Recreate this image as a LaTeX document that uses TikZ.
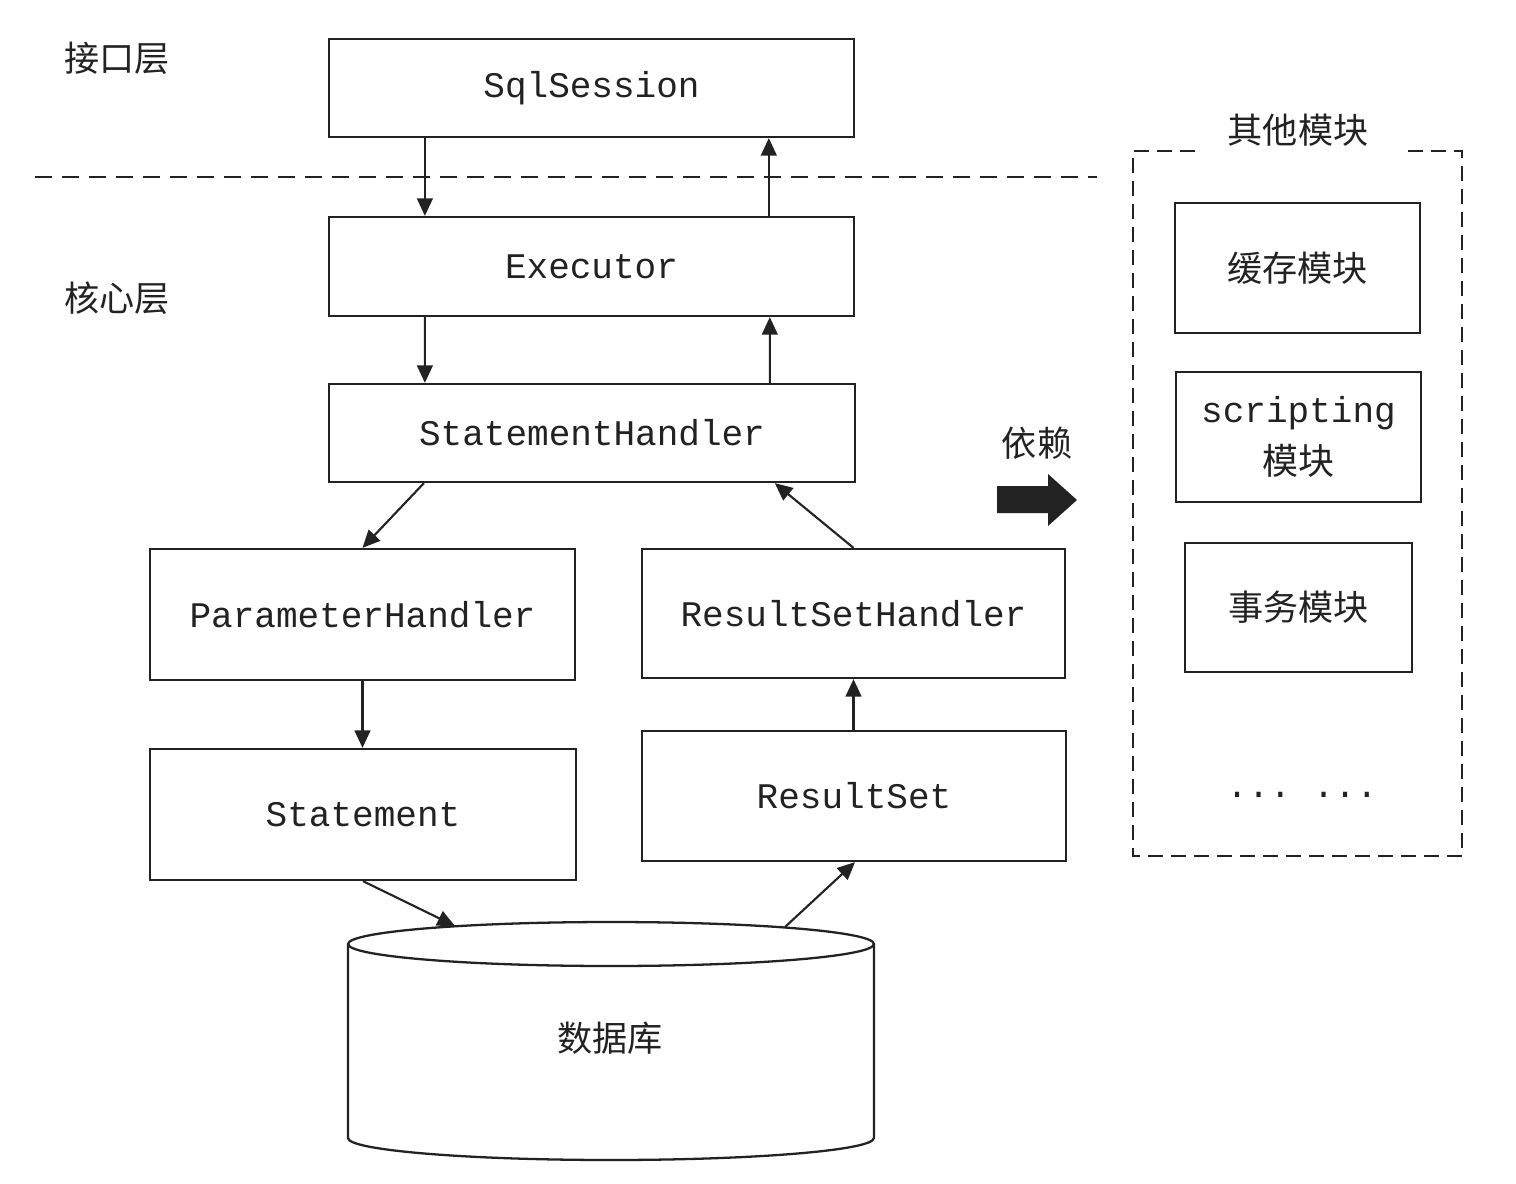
\documentclass[tikz,border=0pt]{standalone}
\usepackage{fontspec}
\setmonofont{Liberation Mono}
\newfontfamily\cjk{Noto Sans CJK SC}
\usetikzlibrary{arrows.meta}
\definecolor{ink}{HTML}{222222}
\tikzset{
  box/.style={draw=ink, line width=1.3pt, rectangle, inner sep=0pt, text=ink,
              font=\fontsize{20.5pt}{26pt}\selectfont\ttfamily},
  cjkbox/.style={box, font=\fontsize{20pt}{26pt}\selectfont\cjk},
  lbl/.style={text=ink, inner sep=0pt, font=\fontsize{20pt}{24pt}\selectfont\cjk},
  arr/.style={draw=ink, line width=1.2pt, -{Triangle[length=10pt,width=9pt]}},
  sep/.style={draw=ink, line width=1.3pt, dash pattern=on 0.34cm off 0.2cm},
  grp/.style={draw=ink, line width=1.3pt, dash pattern=on 0.3cm off 0.16cm},
  cyl/.style={draw=ink, line width=1.3pt}
}
\begin{document}
\begin{tikzpicture}[x=0.02cm,y=-0.02cm]
\useasboundingbox (0,0) rectangle (1516,1184);

% layer labels
\node[lbl] (jk) at (117,58) {接口层};
\node[lbl] (hx) at (117,298) {核心层};

% separator
\coordinate (sepL) at (35,177);
\coordinate (sepR) at (1097,177);
\draw[sep] (sepL) -- (sepR);

% main boxes
\node[box, minimum width=10.5cm, minimum height=1.96cm] (sql) at (591.5,88) {SqlSession};
\node[box, minimum width=10.5cm, minimum height=1.98cm] (exe) at (591.5,266.5) {Executor};
\node[box, minimum width=10.52cm, minimum height=1.96cm] (sh) at (592,433) {StatementHandler};
\node[box, minimum width=8.5cm, minimum height=2.62cm] (ph) at (362.5,614.5) {ParameterHandler};
\node[box, minimum width=8.46cm, minimum height=2.58cm] (rsh) at (853.5,613.5) {ResultSetHandler};
\node[box, minimum width=8.52cm, minimum height=2.62cm] (st) at (363,814.5) {Statement};
\node[box, minimum width=8.48cm, minimum height=2.6cm] (rs) at (854,796) {ResultSet};

% database cylinder
\draw[cyl] (348,944) -- (348,1138)
  arc[start angle=180, end angle=360, x radius=5.26cm, y radius=0.44cm]
  -- (874,944);
\draw[cyl] (611,944) ellipse [x radius=5.26cm, y radius=0.44cm];
\node[lbl] (db) at (610,1038) {数据库};
\coordinate (dbin) at (455,926);
\coordinate (dbout) at (785,927);

% arrows
\draw[arr] ([xshift=1.94cm]sql.south west) -- ([xshift=1.94cm]exe.north west);
\draw[arr] ([xshift=8.82cm]exe.north west) -- ([xshift=8.82cm]sql.south west);
\draw[arr] ([xshift=1.94cm]exe.south west) -- ([xshift=1.94cm]sh.north west);
\draw[arr] ([xshift=8.84cm]sh.north west) -- ([xshift=8.84cm]exe.south west);
\draw[arr] ([xshift=1.92cm]sh.south west) -- (ph.north);
\draw[arr] (rsh.north) -- ([xshift=8.94cm]sh.south west);
\draw[arr] (ph.south) -- (ph.south |- st.north);
\draw[arr] (rsh.south |- rs.north) -- (rsh.south);
\draw[arr] (st.south) -- (dbin);
\draw[arr] (dbout) -- ([xshift=0.02cm]rs.south);

% dependency arrow
\node[lbl] (yl) at (1037,443) {依赖};
\fill[ink] (997,486) -- (1048,486) -- (1048,474) -- (1077,500) -- (1048,526) -- (1048,513) -- (997,513) -- cycle;

% other modules group
\node[lbl] (qt) at (1298,130) {其他模块};
\coordinate (gA) at (1195,151);
\coordinate (gB) at (1133,151);
\coordinate (gC) at (1133,856);
\coordinate (gD) at (1462,856);
\coordinate (gE) at (1462,151);
\coordinate (gF) at (1407,151);
\draw[grp] (gA) -- (gB) -- (gC) -- (gD) -- (gE) -- (gF);

\node[cjkbox, minimum width=4.9cm, minimum height=2.6cm] (hc) at (1297.5,268) {缓存模块};
\node[box, minimum width=4.9cm, minimum height=2.6cm, align=center] (sc) at (1298.5,437)
  {scripting\\[4pt]{\cjk 模块}};
\node[cjkbox, minimum width=4.54cm, minimum height=2.58cm] (sw) at (1298.5,607.5) {事务模块};
\node[text=ink, inner sep=0pt, anchor=base, font=\fontsize{20.5pt}{24pt}\selectfont\ttfamily] (dots) at (1302,797) {... ...};
\end{tikzpicture}
\end{document}
